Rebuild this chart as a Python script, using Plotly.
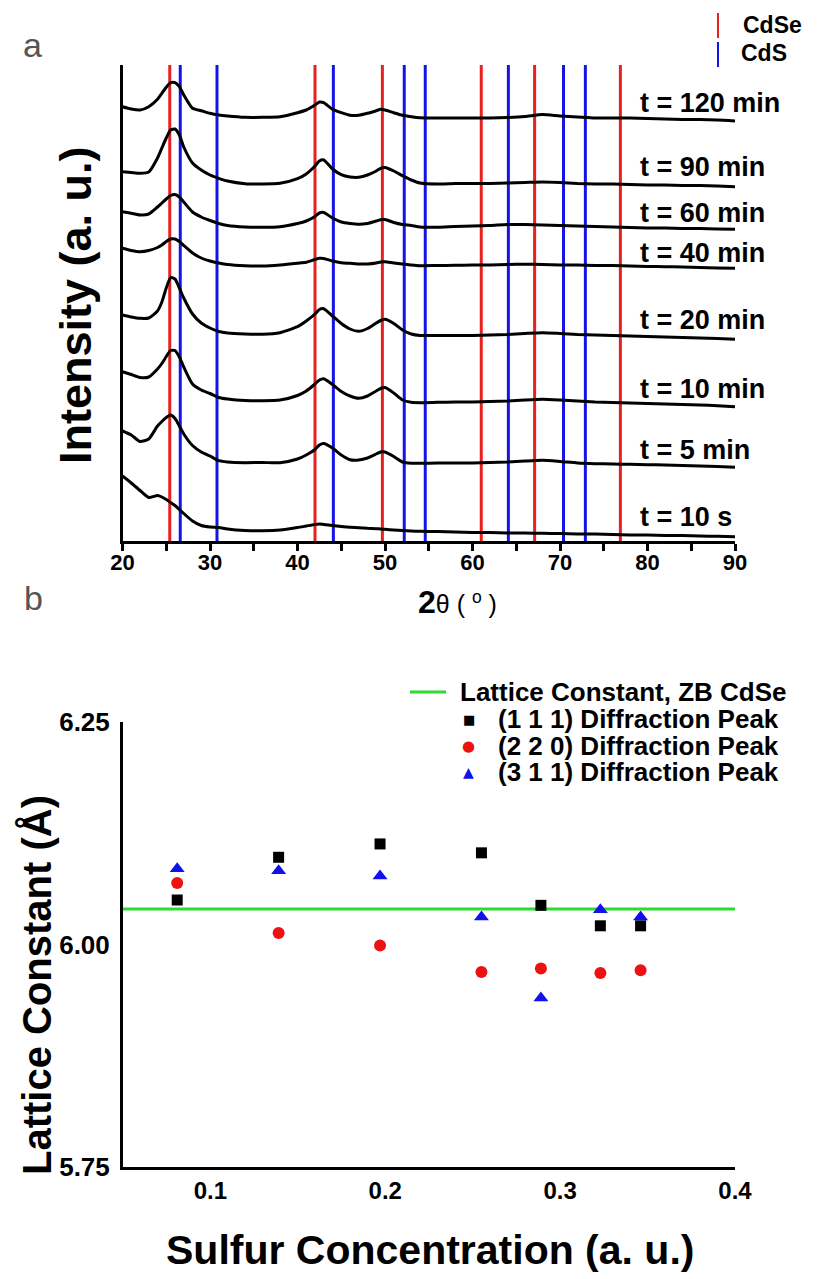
import plotly.graph_objects as go

# ---------------- Panel a : XRD patterns ----------------
TWO_THETA = [20, 21, 22, 23, 24, 24.5, 25, 25.5, 26, 26.5, 27, 28, 29, 30, 31, 32, 34, 36, 38, 40,
             41, 42, 42.5, 43, 44, 45, 46, 47, 48, 49, 49.5, 50, 51, 52, 53, 54, 56, 58, 60, 62,
             64, 66, 68, 70, 72, 74, 76, 78, 80, 82, 84, 86, 88, 90]

XRD_120MIN = [434.3, 432, 431, 434.3, 441.7, 447.7, 453.7, 458.3, 458.3, 454.3, 446, 432.7, 430.3, 427.7, 426, 425, 423.7, 423.7, 424.3, 428.3,
              431, 436, 439, 438.3, 431.7, 428.3, 425.7, 425.7, 427.7, 430.3, 431.7, 431, 428.3, 425.7, 424.3, 423.3, 423, 423, 423, 423,
              423.5, 424.5, 426.5, 425, 424, 423, 423, 423, 422.5, 422, 421.5, 421.5, 421, 420]
XRD_90MIN = [369.3, 368.5, 367.7, 369, 383, 393, 403, 411, 412, 406, 394, 378, 371, 366, 362.7, 360, 357.3, 357, 357.7, 362.3,
             367, 375, 380, 381, 372, 366.3, 364, 363.7, 366, 370, 372.7, 373.5, 370, 365.3, 361, 358, 357, 357.5, 357.5, 357.5,
             358, 358.5, 359, 358.5, 357.5, 357, 357, 356.5, 356, 356, 355.5, 355.5, 355, 354.3]
XRD_60MIN = [329.3, 327.7, 326, 327, 334, 338, 342, 345.5, 346.5, 344, 339, 329, 324, 320.5, 317.5, 315.5, 314, 313.7, 314.3, 317.5,
             320, 324.5, 328, 328.5, 323, 319, 317.5, 316.7, 317.5, 320, 321.3, 321.5, 318.5, 316.5, 315.5, 314, 313.7, 314.5, 315, 315.5,
             316.5, 316.5, 316, 315.5, 315, 314.5, 314, 313.5, 313, 313, 312.5, 312.5, 312, 311.7]
XRD_40MIN = [292.7, 290.5, 289.3, 290.5, 293.5, 296, 299.5, 302, 302, 299.5, 295.5, 288, 283, 280, 278, 276.5, 275.3, 275, 276, 277.7,
             278.7, 281.5, 282.7, 282.5, 280, 278.3, 277.7, 277, 277, 278, 279, 279.3, 278, 277, 276, 275.3, 275.5, 275.7, 276, 276,
             276.5, 276.7, 276.5, 276, 276, 275.5, 275.5, 275, 274.5, 274.3, 274, 273.5, 273, 272.7]
XRD_20MIN = [226, 224, 222.7, 223, 230, 239, 253, 263.5, 262, 253, 243, 227, 218, 213, 209.5, 208, 207, 206.7, 208.3, 214.3,
             220, 227, 231.5, 232.3, 225, 217.5, 212, 209.7, 212.5, 218, 220.5, 221.7, 217.5, 211, 207, 205.5, 205.5, 205.5, 205.5, 206,
             206.5, 207.5, 208.3, 207.5, 206.5, 206, 205.5, 205, 204.5, 204, 203.5, 203, 202.5, 201.7]
XRD_10MIN = [169.3, 166.5, 163.5, 164, 172, 177.5, 184.5, 190.5, 190.5, 184, 174, 157, 151, 147.5, 143.5, 142, 140.5, 140.3, 141, 145.5,
             150, 157, 161, 162.3, 156.5, 149.5, 145, 142.7, 145, 150, 152.5, 153.5, 148, 141, 138.7, 138.3, 138.7, 139, 139, 139.5,
             140, 141, 141.7, 141, 140, 139, 138.5, 138, 137.5, 137, 136.5, 136, 135.3, 134.3]
XRD_5MIN = [110, 106, 99.5, 102, 115, 119.5, 123.5, 126, 122.5, 115, 107, 95.5, 89, 85, 80.3, 79, 78.3, 78.5, 78.3, 82,
            86, 91.5, 96, 97.5, 93, 86, 81.3, 81, 83, 87, 89, 89, 84.5, 79, 77.7, 77.7, 78, 78, 78, 78.5,
            79, 80, 80.7, 79.5, 78, 77.3, 77, 76.7, 76.3, 76, 75.5, 75, 74.5, 73.7]
XRD_10S = [65, 58, 50.5, 43.5, 45.5, 44, 41.5, 38.5, 35.5, 31.5, 27.5, 20, 15.5, 14, 13.5, 12, 10.5, 10.3, 11, 13.5,
           15, 16.5, 17, 16.5, 15.5, 14.5, 13.7, 13.3, 12.7, 12.3, 12, 11.7, 11, 10.5, 10, 9.7, 9.5, 9, 8.5, 8.5,
           8, 8, 7.7, 7.5, 7, 7, 6.5, 6, 6, 5.5, 5.5, 5, 4.7, 4.3]

XRD_SERIES = [XRD_120MIN, XRD_90MIN, XRD_60MIN, XRD_40MIN, XRD_20MIN, XRD_10MIN, XRD_5MIN, XRD_10S]
XRD_LABELS = ["t = 120 min", "t = 90 min", "t = 60 min", "t = 40 min",
              "t = 20 min", "t = 10 min", "t = 5 min", "t = 10 s"]
LABEL_INTENSITY = [438, 374, 328, 288, 221, 152, 91, 24]
LABEL_TWO_THETA = 78.9

CDSE_PEAKS = [25.4, 42.0, 49.7, 61.0, 67.1, 76.9]
CDS_PEAKS = [26.6, 30.8, 44.1, 52.2, 54.6, 64.1, 70.4, 72.9]
TWO_THETA_RANGE = [20, 90]
INTENSITY_RANGE = [0, 476]

# ---------------- Panel b : lattice constants ----------------
SULFUR = [0.081, 0.139, 0.197, 0.255, 0.289, 0.323, 0.346]
PEAK_111 = [6.050, 6.098, 6.113, 6.103, 6.044, 6.021, 6.021]
PEAK_220 = [6.069, 6.013, 5.999, 5.969, 5.973, 5.968, 5.971]
PEAK_311 = [6.085, 6.083, 6.077, 6.031, 5.940, 6.039, 6.031]
ZB_CDSE_LATTICE = 6.040
SULFUR_RANGE = [0.05, 0.4]
LATTICE_RANGE = [5.75, 6.25]
LATTICE_TICKS = [5.75, 6.00, 6.25]
SULFUR_TICKS = [0.1, 0.2, 0.3, 0.4]

RED = "#e8201e"
BLUE = "#1414e6"
GREEN = "#2ddc2d"
ARIAL = "Liberation Sans, Arial, sans-serif"

W, H = 817, 1279
PAGE_OFFSET = 8  # default body margin of the html page


def px(x):
    return (x - PAGE_OFFSET) / W


def py(y):
    return 1 - (y - PAGE_OFFSET) / H


fig = go.Figure()


def vlines(values):
    xs, ys = [], []
    for v in values:
        xs += [v, v, None]
        ys += [INTENSITY_RANGE[0], INTENSITY_RANGE[1], None]
    return xs, ys


for peaks, col in [(CDSE_PEAKS, RED), (CDS_PEAKS, BLUE)]:
    xs, ys = vlines(peaks)
    fig.add_trace(go.Scatter(x=xs, y=ys, mode="lines", line=dict(color=col, width=3),
                             showlegend=False, hoverinfo="skip", xaxis="x", yaxis="y"))

for series in XRD_SERIES:
    fig.add_trace(go.Scatter(x=TWO_THETA, y=series, mode="lines",
                             line=dict(color="black", width=3, shape="spline", smoothing=0.6),
                             showlegend=False, xaxis="x", yaxis="y"))

# panel b traces
fig.add_trace(go.Scatter(x=SULFUR_RANGE, y=[ZB_CDSE_LATTICE] * 2, mode="lines",
                         line=dict(color=GREEN, width=3), showlegend=False,
                         xaxis="x2", yaxis="y2"))
fig.add_trace(go.Scatter(x=SULFUR, y=PEAK_111, mode="markers",
                         marker=dict(symbol="square", size=11, color="black"),
                         showlegend=False, xaxis="x2", yaxis="y2"))
fig.add_trace(go.Scatter(x=SULFUR, y=PEAK_220, mode="markers",
                         marker=dict(symbol="circle", size=12, color="#ee1111"),
                         showlegend=False, xaxis="x2", yaxis="y2"))
fig.add_trace(go.Scatter(x=SULFUR, y=PEAK_311, mode="markers",
                         marker=dict(symbol="triangle-up", size=13, color="#1111ee"),
                         showlegend=False, xaxis="x2", yaxis="y2"))


def note(x, y, text, size, family=ARIAL, weight="bold", color="black", xanchor="center",
         yanchor="middle", angle=0, xref="paper", yref="paper"):
    return dict(x=x, y=y, xref=xref, yref=yref, text=text, showarrow=False,
                xanchor=xanchor, yanchor=yanchor, textangle=angle,
                font=dict(family=family, size=size, color=color, weight=weight))


annotations = []
for lab, yv in zip(XRD_LABELS, LABEL_INTENSITY):
    annotations.append(note(LABEL_TWO_THETA, yv, lab, 27, xanchor="left", xref="x", yref="y"))

annotations.append(note(px(32), py(45), "a", 34, weight="normal", color="#555555"))
annotations.append(note(px(33), py(598), "b", 34, weight="normal", color="#555555"))
annotations.append(note(px(741), py(25), "CdSe", 23, xanchor="left"))
annotations.append(note(px(739), py(53), "CdS", 23, xanchor="left"))
annotations.append(note(px(75), py(305), "Intensity (a. u.)", 45, angle=-90))
annotations.append(note(px(457), py(602),
                        "<b>2</b><span style='font-size:25px'>θ ( <sup>o</sup> )</span>",
                        32, weight="normal"))
annotations.append(note(px(37), py(985), "Lattice Constant (Å)", 40, angle=-90))
annotations.append(note(px(430), py(1250), "Sulfur Concentration (a. u.)", 41))

leg_rows = [("Lattice Constant, ZB CdSe", 458, 692), ("(1 1 1) Diffraction Peak", 496, 719),
            ("(2 2 0) Diffraction Peak", 496, 746), ("(3 1 1) Diffraction Peak", 496, 772)]
for txt, x0, y0 in leg_rows:
    annotations.append(note(px(x0), py(y0), txt, 26, xanchor="left"))
for sym, col, y0, sz in [("■", "black", 719, 13), ("●", "#ee1111", 746, 15), ("▲", "#1111ee", 772, 14)]:
    annotations.append(note(px(469), py(y0), sym, sz, family="DejaVu Sans", weight="normal", color=col))

shapes = [
    dict(type="line", xref="paper", yref="paper", x0=px(718), x1=px(718), y0=py(13), y1=py(38),
         line=dict(color=RED, width=2)),
    dict(type="line", xref="paper", yref="paper", x0=px(718), x1=px(718), y0=py(42), y1=py(67),
         line=dict(color=BLUE, width=2)),
    dict(type="line", xref="paper", yref="paper", x0=px(410), x1=px(446), y0=py(692), y1=py(692),
         line=dict(color=GREEN, width=3)),
]

fig.update_layout(
    width=W, height=H, margin=dict(l=0, r=0, t=0, b=0, pad=0, autoexpand=False),
    paper_bgcolor="white", plot_bgcolor="white", showlegend=False,
    annotations=annotations, shapes=shapes,
    xaxis=dict(domain=[px(122.5), px(735)], range=TWO_THETA_RANGE, anchor="y", automargin=False,
               showline=True, linecolor="black", linewidth=3, showgrid=False, zeroline=False,
               tick0=20, dtick=10, ticks="outside", ticklen=7, tickwidth=2.5, tickcolor="black",
               ticklabelstandoff=-7,
               minor=dict(dtick=5, tick0=20, ticks="outside", ticklen=7, tickwidth=2.5,
                          tickcolor="black", showgrid=False),
               tickfont=dict(family=ARIAL, size=22, color="black", weight="bold")),
    yaxis=dict(domain=[py(541), py(65)], range=INTENSITY_RANGE, anchor="x", automargin=False,
               showline=True, linecolor="black", linewidth=3, showgrid=False, zeroline=False,
               showticklabels=False, ticks=""),
    xaxis2=dict(domain=[px(123), px(735)], range=SULFUR_RANGE, anchor="y2", automargin=False,
                showline=True, linecolor="black", linewidth=3, showgrid=False, zeroline=False,
                tickvals=SULFUR_TICKS, ticktext=[f"{v:.1f}" for v in SULFUR_TICKS], ticks="",
                tickfont=dict(family=ARIAL, size=24, color="black", weight="bold")),
    yaxis2=dict(domain=[py(1167), py(722)], range=LATTICE_RANGE, anchor="x2", automargin=False,
                showline=True, linecolor="black", linewidth=3, showgrid=False, zeroline=False,
                tickvals=LATTICE_TICKS, ticktext=[f"{v:.2f}" for v in LATTICE_TICKS],
                ticks="outside", ticklen=5, tickcolor="rgba(0,0,0,0)",
                tickfont=dict(family=ARIAL, size=26, color="black", weight="bold")),
)

fig.write_html("out.html")
